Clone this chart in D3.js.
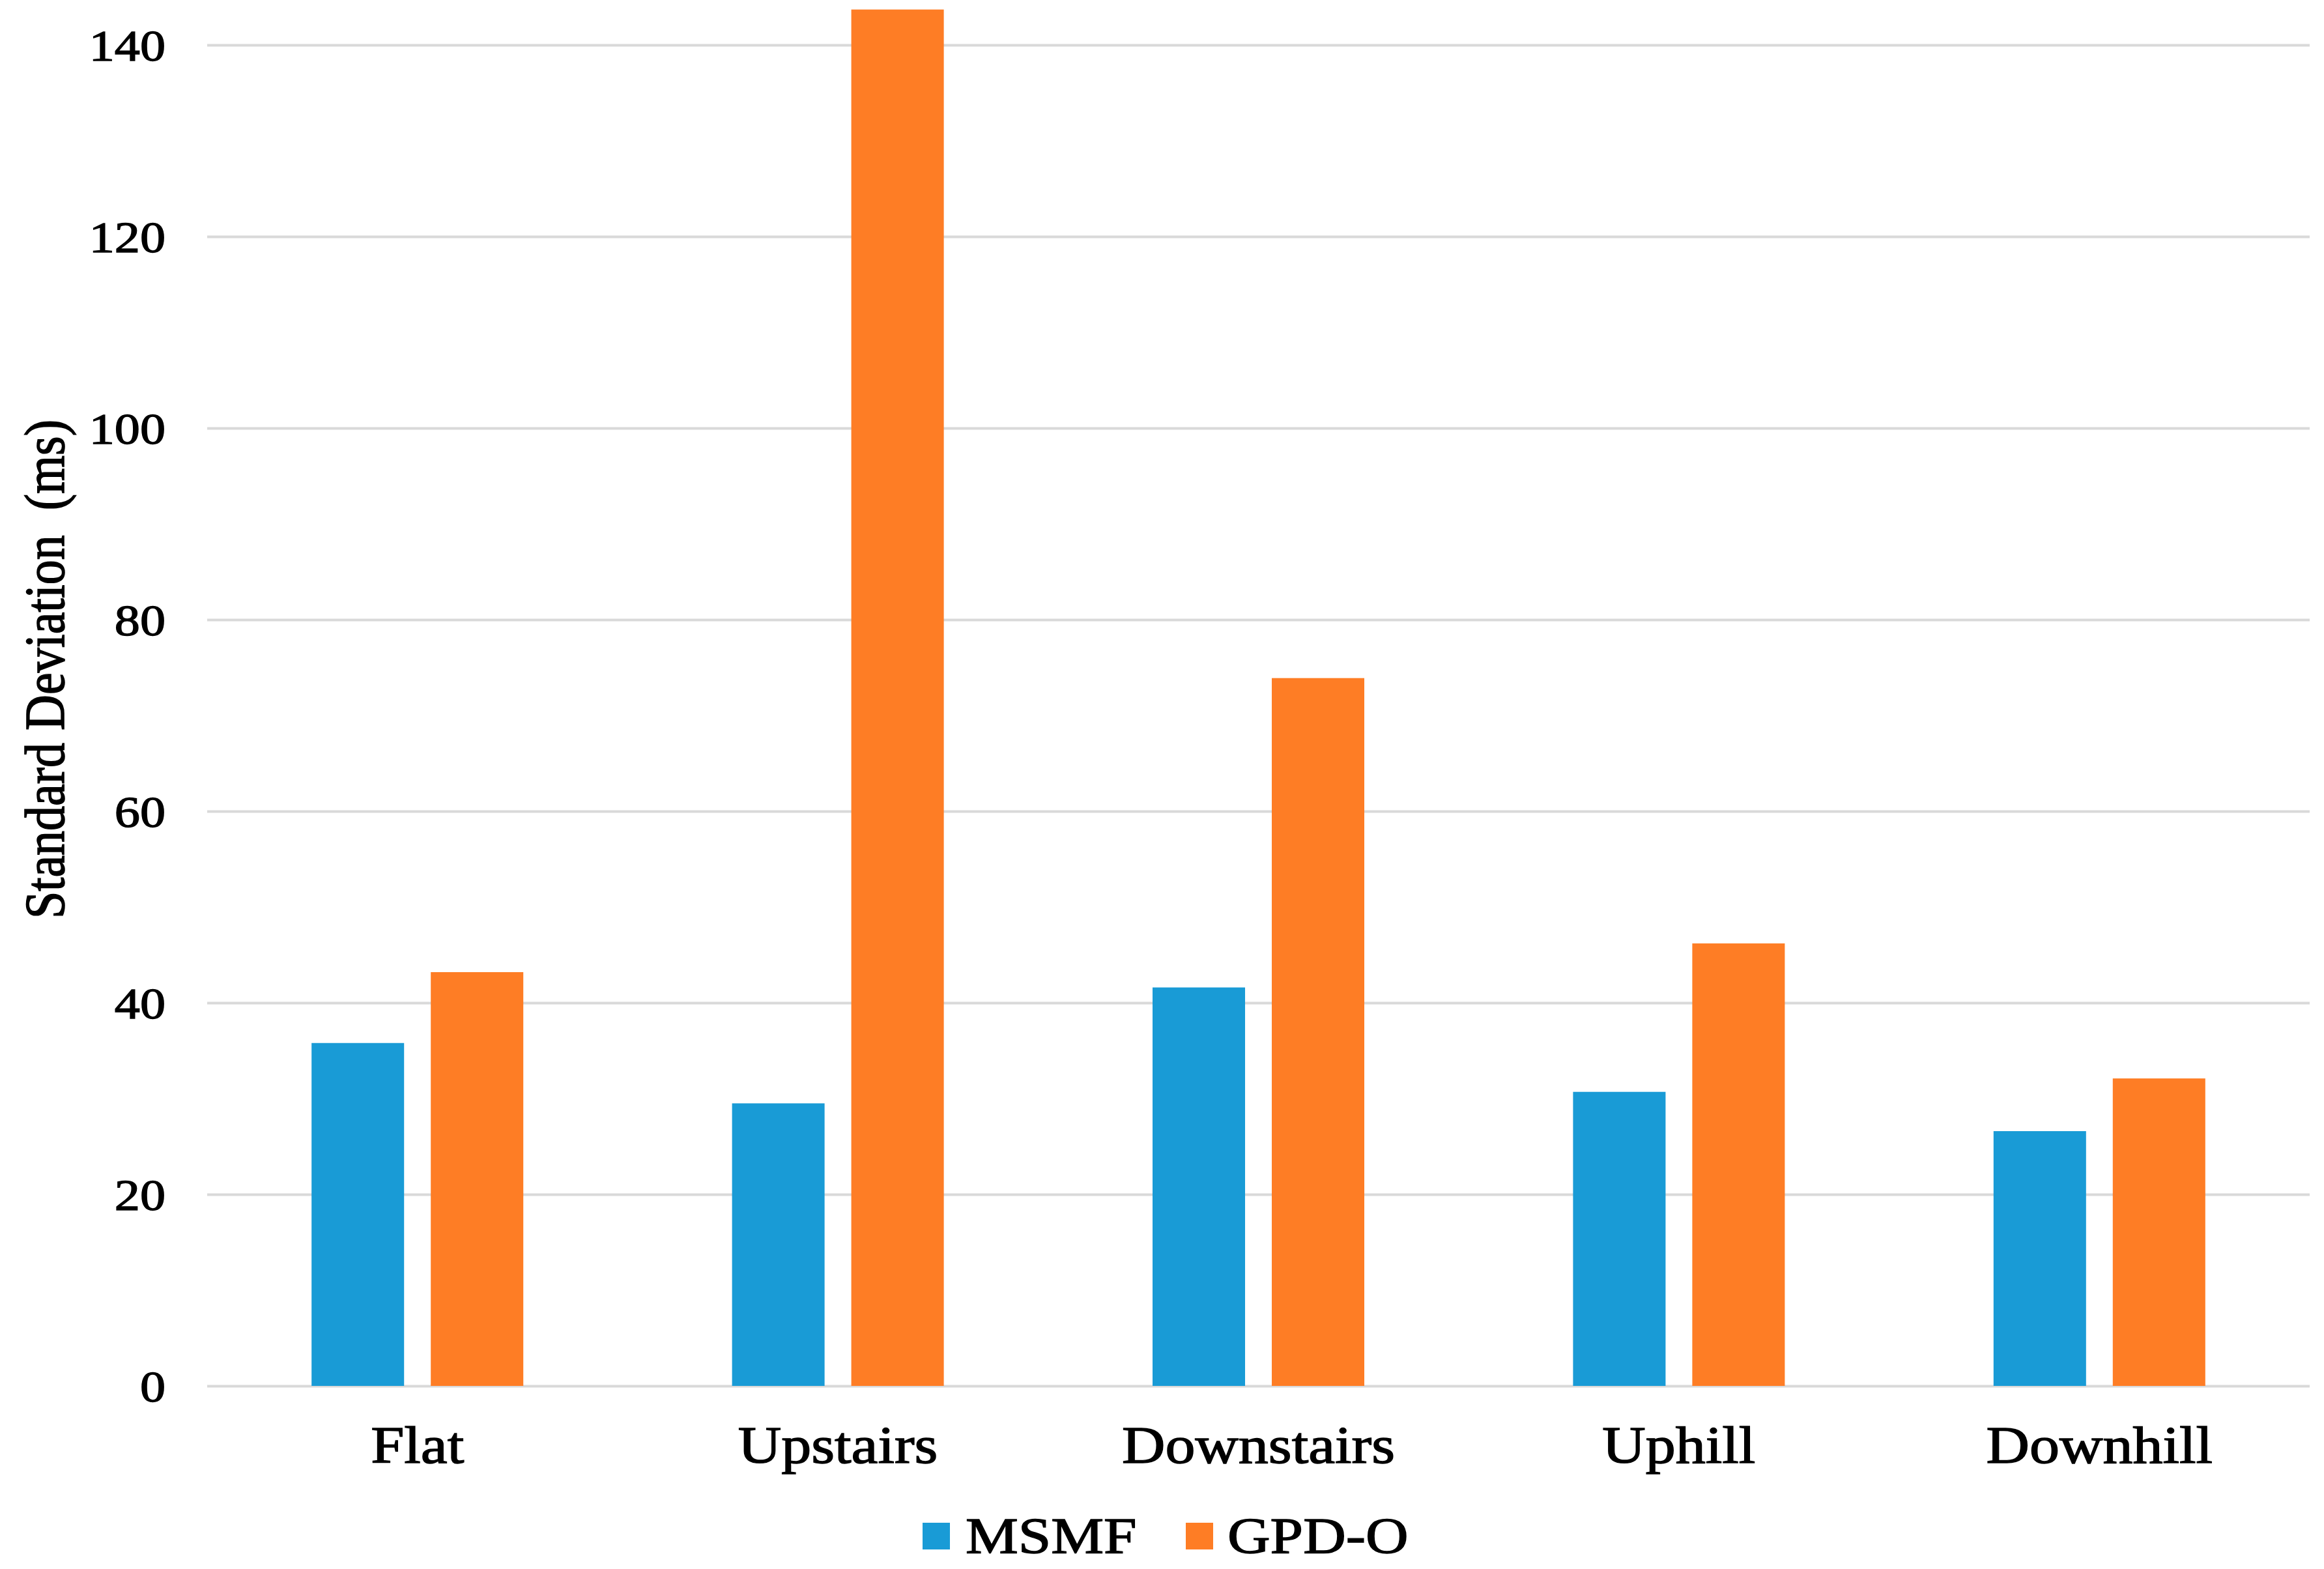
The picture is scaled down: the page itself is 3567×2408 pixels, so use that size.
<!DOCTYPE html>
<html>
<head>
<meta charset="utf-8">
<script src="https://cdn.jsdelivr.net/npm/d3@7"></script>
<style>
  html, body { margin: 0; padding: 0; background: #ffffff; }
  svg { display: block; }
  text { font-family: "Liberation Serif", "Times New Roman", serif; fill: #000; stroke: #000; stroke-width: 1.4px; white-space: pre; }
</style>
</head>
<body>
<svg id="chart" width="3567" height="2408"></svg>
<script>
// ---- data ----
const categories = ["Flat", "Upstairs", "Downstairs", "Uphill", "Downhill"];
const seriesNames = ["MSMF", "GPD-O"];
const msmfValues = [35.8, 29.5, 41.6, 30.7, 26.6];
const gpdoValues = [43.2, 143.7, 73.9, 46.2, 32.1];
const yTicks = [0, 20, 40, 60, 80, 100, 120, 140];
const yTitle = "Standard Deviation  (ms)";
const seriesColors = ["#199bd6", "#fe7d25"];

// ---- layout ----
const W = 3567, H = 2408;
const plotLeft = 318, plotRight = 3545, plotTop = 69, plotBottom = 2127;
const stretch = 1.15;

const svg = d3.select("#chart");
svg.append("rect").attr("width", W).attr("height", H).attr("fill", "#ffffff");

const x0 = d3.scaleBand().domain(categories).range([plotLeft, plotRight]).paddingInner(0).paddingOuter(0);
const groupHalf = 162.5;
const x1 = d3.scaleBand().domain(seriesNames).range([-groupHalf, groupHalf]).paddingInner(0.224).paddingOuter(0);
const y = d3.scaleLinear().domain([0, 140]).range([plotBottom, plotTop]);

// gridlines
const yAxis = d3.axisLeft(y).tickValues(yTicks).tickSize(-(plotRight - plotLeft)).tickFormat("");
const grid = svg.append("g").attr("transform", `translate(${plotLeft},0)`).call(yAxis);
grid.select(".domain").remove();
grid.selectAll(".tick line").attr("stroke", "#d9d9d9").attr("stroke-width", 4);

// y tick labels
svg.append("g").selectAll("text").data(yTicks).join("text")
  .attr("transform", d => `translate(254,${y(d)}) scale(${stretch},1)`)
  .attr("dy", "0.35em")
  .attr("text-anchor", "end")
  .attr("font-size", 68)
  .text(d => d);

// bars
const data = categories.map((c, i) => ({ cat: c, vals: [msmfValues[i], gpdoValues[i]] }));
const groups = svg.append("g").selectAll("g").data(data).join("g")
  .attr("transform", d => `translate(${x0(d.cat) + x0.bandwidth() / 2},0)`);
groups.selectAll("rect").data(d => d.vals.map((v, j) => ({ s: seriesNames[j], v, j }))).join("rect")
  .attr("x", d => x1(d.s))
  .attr("width", x1.bandwidth())
  .attr("y", d => y(d.v))
  .attr("height", d => y(0) - y(d.v))
  .attr("fill", d => seriesColors[d.j]);

// x labels
svg.append("g").selectAll("text").data(categories).join("text")
  .attr("transform", d => `translate(${x0(d) + x0.bandwidth() / 2},2245) scale(${stretch},1)`)
  .attr("text-anchor", "middle")
  .attr("font-size", 80)
  .text(d => d);

// y title
svg.append("text")
  .attr("transform", `translate(98,1027) scale(${stretch},1) rotate(-90)`)
  .attr("text-anchor", "middle")
  .attr("font-size", 76)
  .text(yTitle);

// legend
const legendItems = [
  { name: seriesNames[0], color: seriesColors[0], sx: 1416, tx: 1482 },
  { name: seriesNames[1], color: seriesColors[1], sx: 1820, tx: 1884 }
];
const lg = svg.append("g");
lg.selectAll("rect").data(legendItems).join("rect")
  .attr("x", d => d.sx).attr("y", 2337).attr("width", 42).attr("height", 41)
  .attr("fill", d => d.color);
lg.selectAll("text").data(legendItems).join("text")
  .attr("transform", d => `translate(${d.tx},2383) scale(${stretch},1)`)
  .attr("font-size", 79)
  .text(d => d.name);
</script>
</body>
</html>
